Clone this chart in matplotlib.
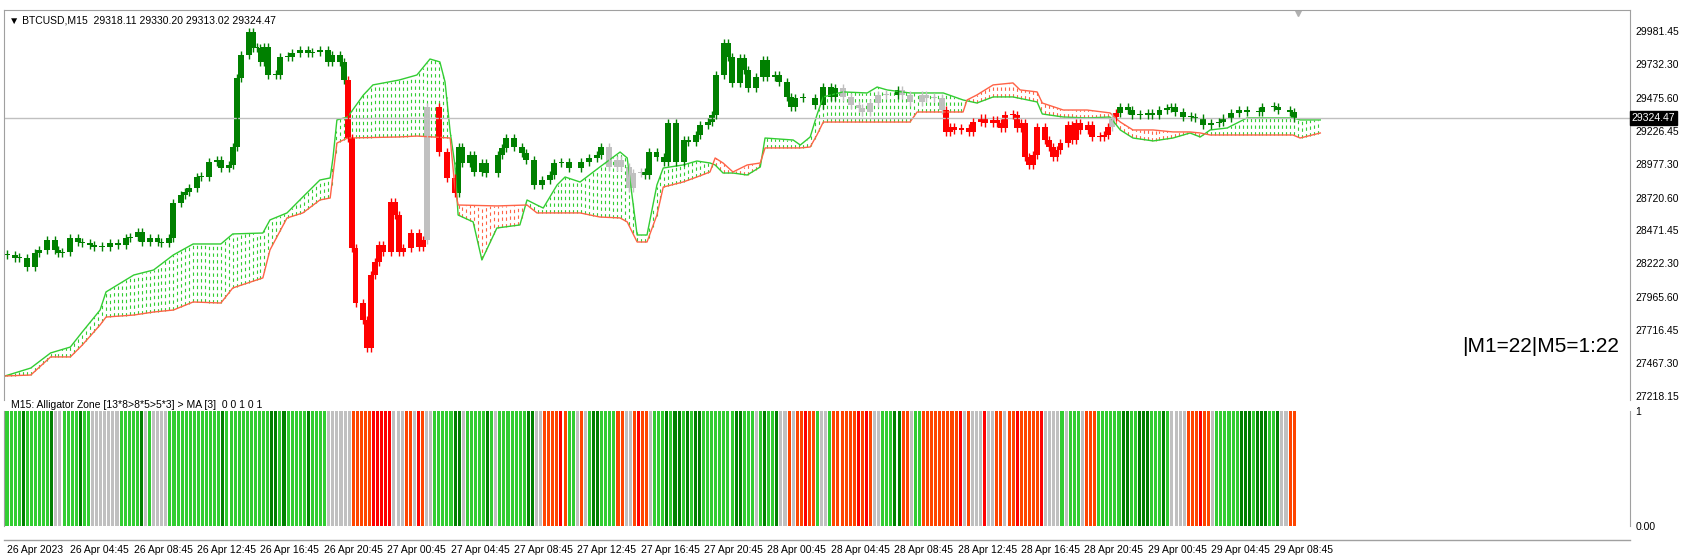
import matplotlib
matplotlib.use('Agg')
import matplotlib.pyplot as plt
import numpy as np

plt.rcParams['font.family'] = ['Liberation Sans', 'DejaVu Sans']

# candles: bar index, close price, colour code (g=green, r=red, s=gray)
bars = [0, 2, 3, 5, 7, 8, 10, 12, 13, 14, 16, 18, 19, 21, 22, 24, 26, 28, 30, 31, 33, 34, 36, 38, 39, 41,
        42, 44, 45, 46, 48, 49, 51, 53, 54, 56, 57, 58, 59, 61, 62, 63, 64, 65, 66, 68, 69, 71, 72, 74, 76,
        77, 79, 81, 82, 84, 85,
        86, 87, 88, 90, 91, 92, 93, 94, 95, 97, 98, 99, 100, 102, 104, 105, 106, 109, 111, 113,
        114, 115, 117, 118, 120, 121, 124, 125, 126, 128, 130, 131, 133, 135, 137, 138, 140, 142, 145, 147,
        149, 150, 152, 154, 155, 157, 158, 160,
        161, 162, 164, 166, 167, 169, 171, 172, 174, 175, 177, 178, 179, 181, 182, 183, 185, 186, 187, 189,
        191, 192, 194, 195, 197, 198, 199, 201, 204, 206, 208, 209,
        211, 213, 215, 216, 218, 220, 222, 225, 226, 228, 231, 232, 234, 236,
        237, 238, 239, 241, 243, 244, 246, 247, 249, 250, 251, 252, 254, 255, 256, 257, 258, 259, 260, 262,
        263, 264, 265, 266, 268, 269, 270, 271, 273, 274, 276, 277, 278, 279, 280,
        281, 283, 284, 286, 288, 289, 291, 293, 294, 295, 297, 299, 300, 302, 304, 306, 307, 309, 311, 313,
        316, 317, 320, 321, 324, 325]
closes = [28286, 28263, 28263, 28195, 28301, 28323, 28399, 28323, 28301, 28308, 28414, 28384, 28377, 28361,
          28346, 28346, 28377, 28361, 28414, 28422, 28460, 28384, 28414, 28384, 28377, 28414,
          28679, 28740, 28763, 28793, 28876, 28876, 28990, 29005, 28944, 28967, 29103, 29626, 29800, 29974,
          29853, 29853, 29747, 29860, 29648, 29648, 29785, 29785, 29815, 29837, 29815, 29822, 29837, 29747,
          29800, 29747, 29610,
          29171, 28339, 27922, 27794, 27582, 28134, 28233, 28361, 28308, 28687, 28588, 28308, 28339, 28452,
          28346, 28399, 29406, 29065, 28869, 28755,
          29103, 28982, 29043, 28914, 28982, 28906, 29043, 29096, 29171, 29103, 29058, 29005, 28816, 28853,
          28891, 28982, 28990, 28944, 28990, 29020, 29043, 29103, 28952, 29005, 28952, 28793, 28906, 28914,
          28891, 29065, 29028, 28990, 29285, 28990, 29156, 29141, 29194, 29270, 29292, 29345, 29648, 29890,
          29785, 29588, 29777, 29686, 29550, 29633, 29762, 29633, 29648, 29595, 29482, 29406, 29474, 29474,
          29421, 29557, 29482, 29550,
          29482, 29421, 29398, 29368, 29436, 29497, 29497, 29535, 29497, 29444, 29497, 29474, 29474, 29383,
          29217, 29255, 29232, 29247, 29217, 29292, 29323, 29285, 29308, 29285, 29247, 29345, 29345, 29247,
          29285, 29028, 28967, 29043, 29255, 29156, 29103, 29028, 29081, 29133, 29270, 29156, 29285, 29232,
          29270, 29179, 29179, 29194, 29255, 29330, 29361,
          29406, 29383, 29345, 29345, 29361, 29345, 29383, 29398, 29406, 29368, 29330, 29330, 29323, 29270,
          29285, 29292, 29323, 29361, 29383, 29368, 29368, 29406, 29406, 29383, 29368, 29324]
kinds = ('g' * 57 + 'r' * 16 + 's' + 'rrr' + 'g' * 22 + 's' * 6 + 'g' * 32 + 's' * 7 + 'g' + 's' * 6
         + 'r' * 33 + 's' + 'r' + 'g' * 26)

# ichimoku cloud: span A (green) and span B (red)
span_a_bar = [-0.5, 6, 11, 16, 19, 23.5, 25, 32, 37, 42, 47, 54, 57, 64.6, 66.4, 70.7, 74.7, 79, 81.6, 82.3,
              83.3, 86, 90, 92.4, 99, 103.5, 106.8, 109.3, 110.6, 111.9, 113.1, 113.9, 117.7, 119.9, 123.7,
              129.5, 131.3, 133.8, 135.4, 138.9, 140.9, 144.7, 149.7, 154.8, 156.6, 159.1, 161.6, 164.1,
              165.7, 170.7, 174.2, 177.5, 178.8, 180.8, 183.3, 186.9, 190.2, 191.4, 198.5, 200.3, 202.8,
              204.5, 206.1, 211.1, 217.2, 219.7, 222.2, 228, 236.4, 241.4, 244.9, 249, 254, 260.1, 261.4,
              266.7, 272.7, 278.5, 281.1, 284.3, 289.4, 294.4, 298.7, 301.3, 303.8, 308.1, 313.1, 318.2,
              324.7, 326.5, 331.6]
span_a = [27370, 27430, 27544, 27589, 27703, 27869, 28006, 28134, 28172, 28286, 28369, 28369, 28445, 28452,
          28551, 28604, 28725, 28853, 28869, 29020, 29308, 29330, 29497, 29573, 29610, 29648, 29769, 29747,
          29595, 29217, 28967, 28588, 28536, 28248, 28490, 28513, 28702, 28664, 28641, 28816, 28876, 28838,
          28952, 29065, 29020, 28437, 28437, 28816, 28944, 28967, 28997, 28982, 28967, 28906, 28906, 28891,
          28952, 29171, 29156, 29118, 29179, 29345, 29482, 29520, 29512, 29557, 29535, 29512, 29512, 29459,
          29436, 29482, 29482, 29444, 29353, 29330, 29323, 29330, 29232, 29171, 29149, 29171, 29209, 29179,
          29232, 29247, 29323, 29323, 29323, 29308, 29308]
span_b_bar = [-0.5, 6, 11, 16, 19, 23.5, 25, 32, 37, 42, 47, 54, 57, 64.6, 66.4, 70.7, 74.7, 79, 81.6, 82.3,
              83.3, 86, 99, 103.5, 111.9, 113.1, 113.9, 123.7, 131.3, 133.8, 144.7, 149.7, 154.8, 156.6,
              159.1, 161.6, 164.1, 165.7, 170.7, 174.2, 177.5, 178.8, 180.8, 183.3, 186.9, 190.2, 191.4,
              200.3, 202.8, 204.5, 206.1, 228, 229.8, 241.4, 242.4, 244.9, 249, 254, 255.8, 260.1, 261.4,
              266.7, 272.7, 278.5, 281.1, 284.3, 289.4, 294.4, 298.7, 301.3, 303.8, 313.1, 324.7, 326.5,
              331.6]
span_b = [27370, 27377, 27514, 27514, 27604, 27756, 27816, 27831, 27854, 27869, 27930, 27922, 28036, 28112,
          28324, 28566, 28604, 28702, 28717, 28891, 29133, 29171, 29179, 29186, 29171, 28793, 28664, 28657,
          28664, 28604, 28604, 28573, 28566, 28536, 28384, 28384, 28588, 28800, 28838, 28876, 28914, 29020,
          28982, 28914, 28967, 28982, 29096, 29096, 29103, 29194, 29292, 29292, 29368, 29368, 29459, 29497,
          29573, 29588, 29535, 29520, 29436, 29383, 29383, 29361, 29292, 29232, 29232, 29217, 29217, 29209,
          29194, 29194, 29194, 29171, 29209]

# lower panel (alligator zone) colour codes per bar
zone = ('LLLLDLLLLLLD' 'GG' 'LLLL' 'D' 'LL' 'GGGGGGG' 'LLLLL' 'D' 'G' 'L' 'GGGG' 'LLLLLLLLLLLLL' 'D'
        'LLLLLLLLLLL' 'DDLD' 'LLLLL' 'D' 'LLLL' 'GGGGGG' 'OOOOO' 'RRRRR' 'GGG' 'OOGROGG' 'LL'
        'LLLDDGLLLLLDLGLLLLLLLDDGGOOOOROLLGOGLDDLLLLOOGGOROOGLLLDLDDLDLDDLLLLLLLLDDLLLGLDLLDGGOGOORO'
        'OLGGLOOOOOOR'
        'OROGGLLLDDOOGLLOOOOOOOOORGOGGGRGGOOGOOROOOOORGGGGLGLLLGOOOLLLLLLDDLLDDDLLLDLGGGGOOOROOGLLLLLL'
        'DDDLDDDLLDGGOO')

time_labels = ['26 Apr 2023', '26 Apr 04:45', '26 Apr 08:45', '26 Apr 12:45', '26 Apr 16:45', '26 Apr 20:45',
               '27 Apr 00:45', '27 Apr 04:45', '27 Apr 08:45', '27 Apr 12:45', '27 Apr 16:45', '27 Apr 20:45',
               '28 Apr 00:45', '28 Apr 04:45', '28 Apr 08:45', '28 Apr 12:45', '28 Apr 16:45', '28 Apr 20:45',
               '29 Apr 00:45', '29 Apr 04:45', '29 Apr 08:45']
price_ticks = [29981.45, 29732.30, 29475.60, 29226.45, 28977.30, 28720.60, 28471.45, 28222.30, 27965.60,
               27716.45, 27467.30, 27218.15]
last_price = 29324.47

W, H = 1682, 558
fig = plt.figure(figsize=(W / 100, H / 100), dpi=100)
fig.patch.set_facecolor('white')
L, R = 4, 1630
ax = fig.add_axes([L / W, 1 - 400 / H, (R - L) / W, 390 / H])
ax2 = fig.add_axes([L / W, 1 - 526 / H, (R - L) / W, 115 / H])
xlim = (-0.76, 409.8)
fs = 7.5

# cloud hatch
grid = np.arange(0, 332, 1.0)
a = np.interp(grid, span_a_bar, span_a)
b = np.interp(grid, span_b_bar, span_b)
for x, ya, yb in zip(grid, a, b):
    c = '#32cd32' if ya >= yb else '#ff6347'
    ax.vlines(x, min(ya, yb), max(ya, yb), colors=c, linestyles=(0, (3, 3)), linewidth=0.8)
ax.plot(span_a_bar, span_a, color='#32cd32', lw=1)
ax.plot(span_b_bar, span_b, color='#ff6347', lw=1)

ax.axhline(last_price, color='#c0c0c0', lw=1)

cols = {'g': '#008000', 'r': '#ff0000', 's': '#c0c0c0'}
prev = closes[0]
for x, c, k in zip(bars, closes, kinds):
    col = cols[k]
    lo, hi = min(prev, c), max(prev, c)
    if hi - lo < 10:
        hi = lo + 10
    ax.vlines(x, lo - 30, hi + 30, colors=col, lw=1)
    ax.bar(x, hi - lo, bottom=lo, width=1.5, color=col, linewidth=0)
    prev = c

ax.set_xlim(*xlim)
ax.set_ylim(27188, 30140)
ax.yaxis.tick_right()
ax.set_yticks(price_ticks)
ax.set_yticklabels(['%.2f' % p for p in price_ticks], fontsize=fs)
ax.tick_params(axis='y', length=0, pad=4)
ax.set_xticks([])
ax.text(1.001, last_price, '%.2f' % last_price, transform=ax.get_yaxis_transform(), fontsize=fs,
        color='white', va='center', ha='left', bbox=dict(facecolor='black', edgecolor='black', pad=1.5))
ax.text(0.003, 0.985, '\u25bc BTCUSD,M15  29318.11 29330.20 29313.02 29324.47', transform=ax.transAxes,
        fontsize=fs, va='top', ha='left', family=['Liberation Sans', 'DejaVu Sans'])
ax.text(0.993, 27590, '|M1=22|M5=1:22', transform=ax.get_yaxis_transform(), fontsize=15, ha='right',
        va='center')
ax.plot([326], [30120], marker='v', color='#b0b0b0', ms=5)

zcols = {'L': '#32cd32', 'D': '#008000', 'G': '#c0c0c0', 'O': '#ff4500', 'R': '#ff0000'}
zx = np.linspace(0, 325, len(zone))
ax2.bar(zx, 1, width=0.75 * 325 / len(zone), color=[zcols[z] for z in zone], linewidth=0)
ax2.set_xlim(*xlim)
ax2.set_ylim(0, 1.0)
ax2.yaxis.tick_right()
ax2.set_yticks([0, 1])
ax2.set_yticklabels(['0.00', '1'], fontsize=fs)
ax2.tick_params(axis='y', length=0, pad=4)
ax2.set_xticks(np.arange(len(time_labels)) * 16)
ax2.set_xticklabels(time_labels, fontsize=fs, ha='left')
ax2.tick_params(axis='x', length=0, pad=14)
ax2.text(0.004, 1.005, 'M15: Alligator Zone [13*8>8*5>5*3] > MA [3]  0 0 1 0 1', transform=ax2.transAxes,
         fontsize=fs, va='bottom', ha='left')

for a_ in (ax, ax2):
    for s in ('top', 'bottom'):
        a_.spines[s].set_visible(False)
    a_.spines['right'].set_color('#a0a0a0')
    a_.spines['left'].set_color('#a0a0a0')
ax.spines['top'].set_visible(True)
ax.spines['top'].set_color('#a0a0a0')
fig.add_artist(plt.Line2D([L / W, R / W], [1 - 540 / H, 1 - 540 / H], color='#a0a0a0', lw=1))

fig.savefig('out.png', dpi=100, facecolor='white')
